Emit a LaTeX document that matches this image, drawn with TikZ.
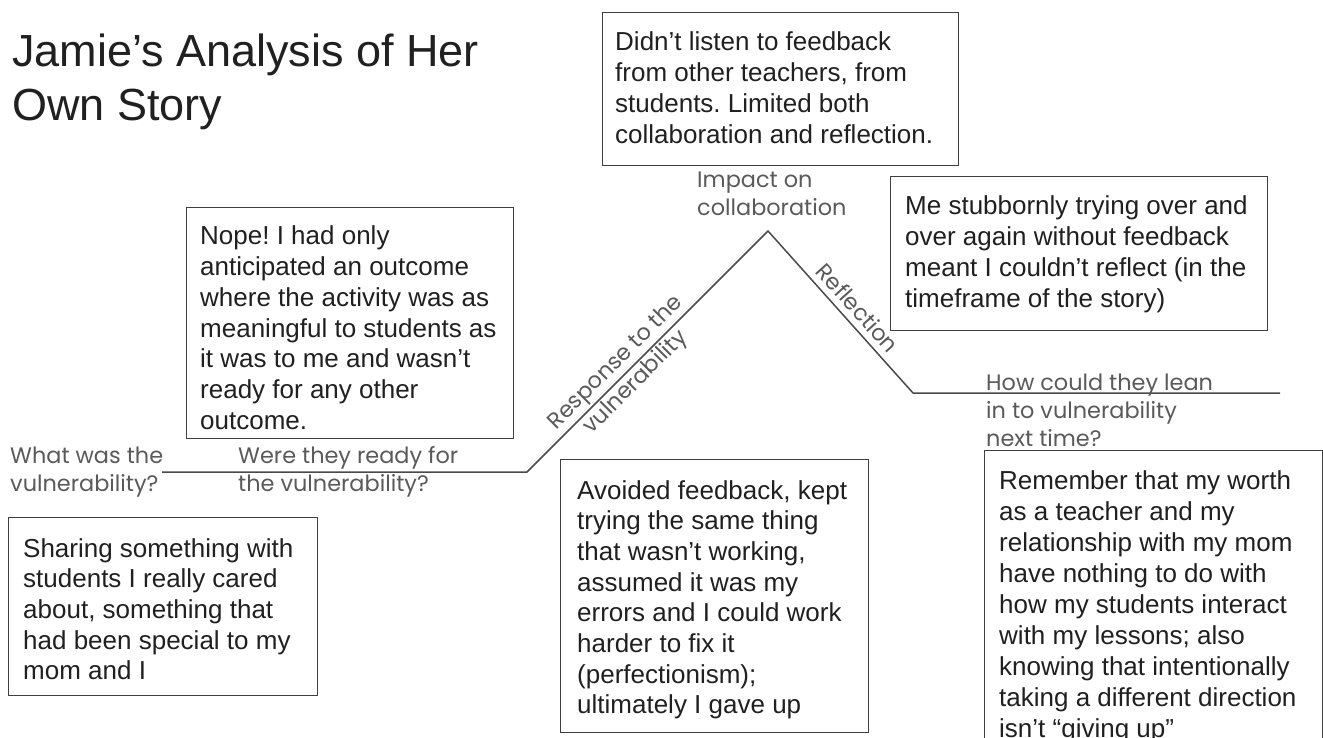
\documentclass[tikz,border=0pt]{standalone}
\usepackage{fontspec}
\setmainfont{Liberation Sans}
\newfontfamily\labfam{Poppins}
\definecolor{boxline}{HTML}{3F3F3F}
\definecolor{labgray}{HTML}{5A5A5A}
\definecolor{pathgray}{HTML}{4A4A4A}
\definecolor{txt}{HTML}{202020}
\newlength\lbw
\newcommand\labf{\labfam\fontsize{\labsz}{28}\selectfont}
\newcommand\bfnt{\fontsize{26}{30.7}\selectfont}
\frenchspacing
\begin{document}
\settowidth\lbw{\labfam\fontsize{10}{12}\selectfont Were they ready for}%
\pgfmathsetmacro\labsz{10*220/\lbw}%
\begin{tikzpicture}[x=1pt,y=-1pt,
  box/.style={draw=boxline, line width=1.4pt, inner sep=0pt, anchor=north west},
  btext/.style={anchor=base west, inner sep=0pt, text=txt},
  lab/.style={inner sep=0pt, text=labgray}]
\useasboundingbox (0,0) rectangle (1323,738);
\clip (0,0) rectangle (1323,738);
\fill[white] (0,0) rectangle (1323,738);

% title
\node[btext] (title) at (12,67) {\parbox[t]{600pt}{\raggedright\fontsize{45}{54}\selectfont Jamie’s Analysis of Her\\Own Story}};

% path
\coordinate (p0) at (162,472);
\coordinate (p1) at (527,472);
\coordinate (p2) at (768,231);
\coordinate (p3) at (913,393);
\coordinate (p4) at (1280,393);
\draw[pathgray, line width=1.5pt, line join=round] (p0) -- (p1) -- (p2) -- (p3) -- (p4);

% boxes
\node[box, minimum width=356pt, minimum height=153pt] (b1) at (602,12) {};
\node[box, minimum width=327pt, minimum height=231pt] (b2) at (186,207) {};
\node[box, minimum width=377pt, minimum height=154pt] (b3) at (890,176) {};
\node[box, minimum width=309pt, minimum height=178pt] (b4) at (8,517) {};
\node[box, minimum width=308pt, minimum height=273pt] (b5) at (560,459) {};
\node[box, minimum width=338pt, minimum height=320pt] (b6) at (984,450) {};

% box texts
\node[btext] (t1) at (615,51) {\parbox[t]{340pt}{\raggedright\bfnt Didn’t listen to feedback\\from other teachers, from\\students. Limited both\\collaboration and reflection.}};
\node[btext] (t2) at (200,245) {\parbox[t]{320pt}{\raggedright\bfnt Nope! I had only\\anticipated an outcome\\where the activity was as\\meaningful to students as\\it was to me and wasn’t\\ready for any other\\outcome.}};
\node[btext] (t3) at (905,215) {\parbox[t]{360pt}{\raggedright\bfnt Me stubbornly trying over and\\over again without feedback\\meant I couldn’t reflect (in the\\timeframe of the story)}};
\node[btext] (t4) at (23,557) {\parbox[t]{300pt}{\raggedright\bfnt Sharing something with\\students I really cared\\about, something that\\had been special to my\\mom and I}};
\node[btext] (t5) at (577,499) {\parbox[t]{300pt}{\raggedright\bfnt Avoided feedback, kept\\trying the same thing\\that wasn’t working,\\assumed it was my\\errors and I could work\\harder to fix it\\(perfectionism);\\ultimately I gave up}};
\node[btext] (t6) at (999,489) {\parbox[t]{330pt}{\raggedright\fontsize{26}{31}\selectfont Remember that my worth\\as a teacher and my\\relationship with my mom\\have nothing to do with\\how my students interact\\with my lessons; also\\knowing that intentionally\\taking a different direction\\isn’t “giving up”}};

% path labels
\node[lab, anchor=base west] (l1) at (10,463) {\parbox[t]{200pt}{\raggedright\labf What was the\\vulnerability?}};
\node[lab, anchor=base west] (l2) at (238,463) {\parbox[t]{260pt}{\raggedright\labf Were they ready for\\the vulnerability?}};
\node[lab, anchor=base west] (l3) at (697,188) {\parbox[t]{200pt}{\raggedright\labf Impact on\\collaboration}};
\node[lab, rotate=45, align=center, font=\labf] (l4) at (626,373) {Response to the\\vulnerability};
\node[lab, rotate=-48, font=\labf] (l5) at (858,308) {Reflection};
\node[lab, anchor=base west] (l6) at (986,390) {\parbox[t]{300pt}{\raggedright\labf How could they lean\\in to vulnerability\\next time?}};
\end{tikzpicture}
\end{document}
